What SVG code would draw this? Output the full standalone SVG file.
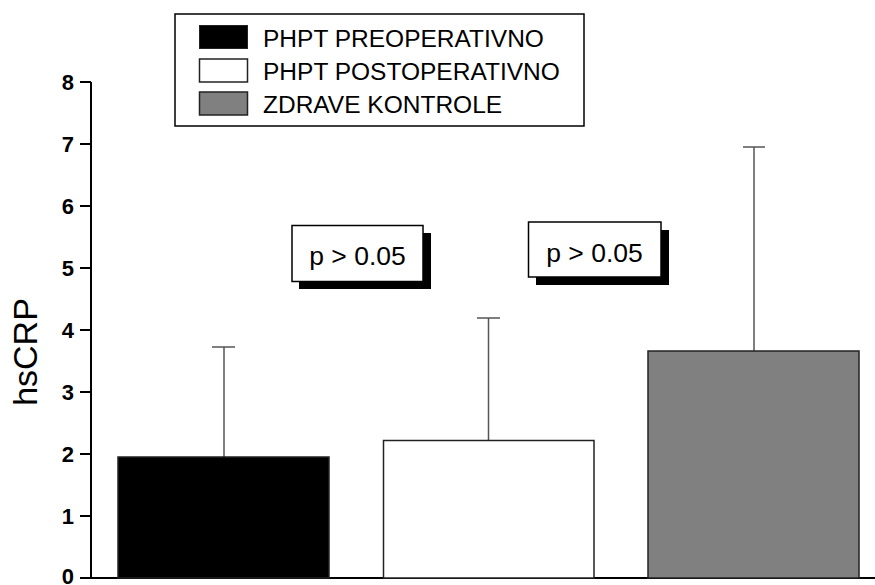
<svg xmlns="http://www.w3.org/2000/svg" width="875" height="585" viewBox="0 0 875 585">
<style>
text{font-family:"Liberation Sans",Arial,sans-serif;fill:#000}
.tick{font-size:22px;font-weight:bold;text-anchor:end}
.leg{font-size:24.5px}
.pv{font-size:26.5px;text-anchor:middle}
.bar{stroke:#222;stroke-width:1.5}
.err{stroke:#555;stroke-width:1.5;fill:none}
.ax{stroke:#000;stroke-width:2;fill:none}
</style>
<rect width="875" height="585" fill="#fff"/>
<g id="axis">
<path class="ax" d="M91,82 V578 H875"/>
<path class="ax" d="M80,82H91M80,144H91M80,206H91M80,268H91M80,330H91M80,392H91M80,454H91M80,516H91M80,578H91"/>
<text class="tick" x="74" y="90">8</text>
<text class="tick" x="74" y="152">7</text>
<text class="tick" x="74" y="214">6</text>
<text class="tick" x="74" y="276">5</text>
<text class="tick" x="74" y="338">4</text>
<text class="tick" x="74" y="400">3</text>
<text class="tick" x="74" y="462">2</text>
<text class="tick" x="74" y="524">1</text>
<text class="tick" x="74" y="584">0</text>
<text transform="translate(37,352) rotate(-90)" font-size="34" text-anchor="middle">hsCRP</text>
</g>
<g id="connectors">
<path class="err" d="M224,457V347M212,347H235"/>
<path class="err" d="M488.5,440V318M477,318H500"/>
<path class="err" d="M754,351V147M743,147H765"/>
</g>
<g id="bar-pre"><rect class="bar" x="118" y="457" width="211" height="121" fill="#000"/></g>
<g id="bar-post"><rect class="bar" x="383.5" y="440.5" width="210.5" height="137.5" fill="#fff"/></g>
<g id="bar-ctrl"><rect class="bar" x="648" y="351" width="211" height="227" fill="#808080"/></g>
<g id="pbox1">
<rect x="299" y="233" width="132" height="56" fill="#000"/>
<rect x="292" y="225.5" width="131" height="56" fill="#fff" stroke="#000" stroke-width="1.5"/>
<text class="pv" x="357.5" y="265">p &gt; 0.05</text>
</g>
<g id="pbox2">
<rect x="536" y="230" width="133" height="55" fill="#000"/>
<rect x="528.5" y="222" width="132.5" height="55" fill="#fff" stroke="#000" stroke-width="1.5"/>
<text class="pv" x="594.5" y="262">p &gt; 0.05</text>
</g>
<g id="legend">
<rect x="175" y="14" width="409" height="112" fill="#fff" stroke="#000" stroke-width="1.5"/>
<rect x="199.5" y="25.5" width="48" height="23" fill="#000" stroke="#222"/>
<rect x="199.5" y="59" width="48" height="23" fill="#fff" stroke="#222" stroke-width="1.5"/>
<rect x="199.5" y="92" width="48" height="23" fill="#808080" stroke="#222" stroke-width="1.5"/>
<text class="leg" x="263" y="47">PHPT PREOPERATIVNO</text>
<text class="leg" x="263" y="80">PHPT POSTOPERATIVNO</text>
<text class="leg" x="263" y="113">ZDRAVE KONTROLE</text>
</g>
</svg>
